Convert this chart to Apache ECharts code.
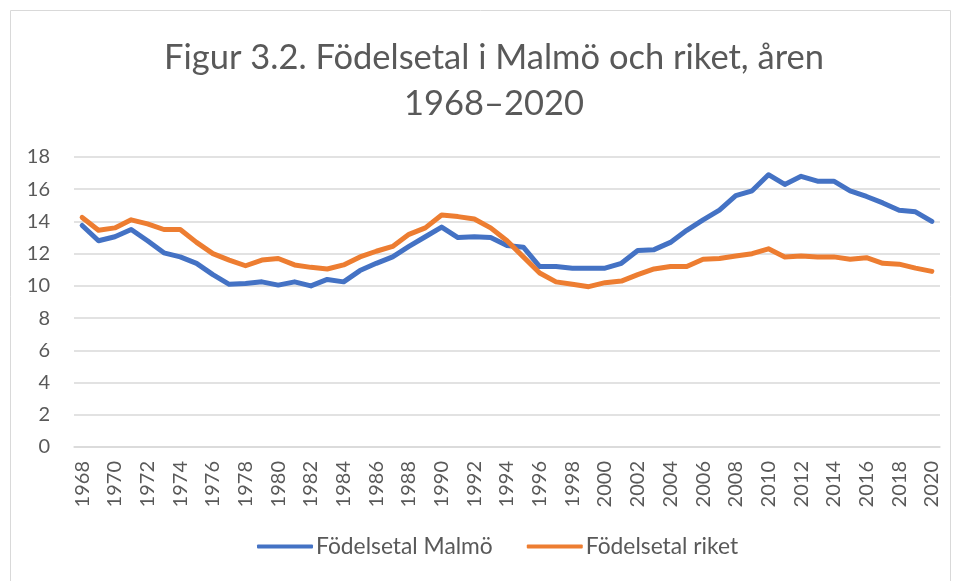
<!DOCTYPE html>
<html>
<head>
<meta charset="utf-8">
<script src="https://cdn.jsdelivr.net/npm/echarts@6/dist/echarts.min.js"></script>
<style>
  html, body { margin: 0; padding: 0; background: #fff; }
  #chart { width: 959px; height: 581px; }
</style>
</head>
<body>
<div id="chart"></div>
<script>
const years = [];
for (let y = 1968; y <= 2020; y++) years.push(String(y));

const malmo = [
  13.75, 12.8, 13.05, 13.5, 12.8, 12.05, 11.8, 11.4, 10.7, 10.1,
  10.15, 10.25, 10.05, 10.25, 10.0, 10.4, 10.25, 10.95, 11.4, 11.8,
  12.45, 13.05, 13.65, 13.0, 13.05, 13.0, 12.5, 12.4, 11.2, 11.2,
  11.1, 11.1, 11.1, 11.4, 12.2, 12.25, 12.7, 13.45, 14.1, 14.7,
  15.6, 15.9, 16.9, 16.3, 16.8, 16.5, 16.5, 15.9, 15.55, 15.15,
  14.7, 14.6, 14.0
];

const riket = [
  14.25, 13.45, 13.6, 14.1, 13.85, 13.5, 13.5, 12.7, 12.0, 11.6,
  11.25, 11.6, 11.7, 11.3, 11.15, 11.05, 11.3, 11.8, 12.15, 12.45,
  13.2, 13.6, 14.4, 14.3, 14.15, 13.6, 12.8, 11.8, 10.8, 10.25,
  10.1, 9.95, 10.2, 10.3, 10.7, 11.05, 11.2, 11.2, 11.65, 11.7,
  11.85, 12.0, 12.3, 11.8, 11.85, 11.8, 11.8, 11.65, 11.75, 11.4,
  11.35, 11.1, 10.9
];

const chart = echarts.init(document.getElementById('chart'));
const textColor = '#595959';
const font = 'Lato, "Open Sans", sans-serif';

chart.setOption({
  animation: false,
  textStyle: { fontFamily: font },
  graphic: [{
    type: 'rect',
    shape: { x: 10.5, y: 10.5, width: 940, height: 590 },
    style: { fill: 'none', stroke: '#d9d9d9', lineWidth: 1 }
  }],
  title: {
    text: 'Figur 3.2. Födelsetal i Malmö och riket, åren\n1968–2020',
    left: 489,
    textAlign: 'center',
    top: 30,
    textStyle: {
      color: textColor,
      fontSize: 34.5,
      fontWeight: 400,
      lineHeight: 46,
      fontFamily: font
    }
  },
  legend: {
    bottom: 18,
    left: 252,
    itemWidth: 56,
    itemHeight: 4,
    itemGap: 34,
    icon: 'roundRect',
    textStyle: { color: textColor, fontSize: 22.8, fontFamily: font, padding: [0, 0, 0, -2] },
    data: ['Födelsetal Malmö', 'Födelsetal riket']
  },
  grid: { left: 74, right: 19, top: 157, bottom: 134 },
  xAxis: {
    type: 'category',
    data: years,
    boundaryGap: true,
    axisLine: { lineStyle: { color: '#d9d9d9', width: 1.5 } },
    axisTick: { show: false },
    axisLabel: {
      rotate: 90,
      interval: 1,
      margin: 14,
      color: textColor,
      fontSize: 20,
      fontFamily: font
    }
  },
  yAxis: {
    type: 'value',
    min: 0,
    max: 18,
    interval: 2,
    axisLine: { show: false },
    axisTick: { show: false },
    splitLine: { lineStyle: { color: '#d9d9d9', width: 1.5 } },
    axisLabel: { color: textColor, fontSize: 20, margin: 24, fontFamily: font }
  },
  series: [
    {
      name: 'Födelsetal Malmö',
      type: 'line',
      data: malmo,
      showSymbol: false,
      lineStyle: { color: '#4472C4', width: 5, cap: 'round', join: 'round' },
      itemStyle: { color: '#4472C4' }
    },
    {
      name: 'Födelsetal riket',
      type: 'line',
      data: riket,
      showSymbol: false,
      lineStyle: { color: '#ED7D31', width: 5, cap: 'round', join: 'round' },
      itemStyle: { color: '#ED7D31' }
    }
  ]
});
</script>
</body>
</html>
